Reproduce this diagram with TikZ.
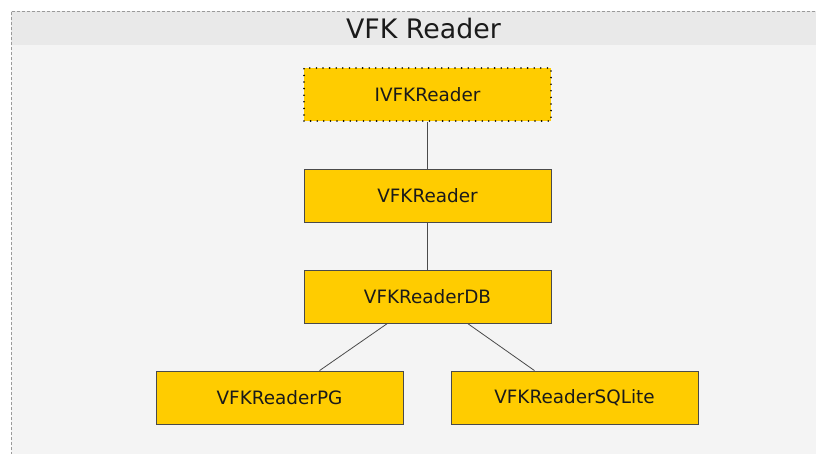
\documentclass[tikz,border=0pt]{standalone}
\usepackage{fontspec}
\setmainfont{DejaVu Sans}
\definecolor{boxfill}{HTML}{FFCC00}
\definecolor{boxline}{HTML}{4A4A4A}
\definecolor{bodybg}{HTML}{F4F4F4}
\definecolor{titlebg}{HTML}{E9E9E9}
\definecolor{framec}{HTML}{9A9A9A}
\definecolor{txt}{HTML}{1A1A1A}
\tikzset{
  cls/.style={draw=boxline, fill=boxfill, line width=0.8pt, minimum width=247pt, minimum height=53pt, inner sep=0pt, text=txt, font=\fontsize{18.4}{20}\selectfont},
  iface/.style={cls, draw=black, line width=1.8pt, dash pattern=on 0pt off 6.6pt, line cap=round},
  conn/.style={draw=boxline, line width=0.8pt}
}
\begin{document}
\begin{tikzpicture}[x=1pt,y=-1pt]
\useasboundingbox (0,0) rectangle (816,453);
\clip (0,0) rectangle (816,453);
\fill[white] (0,0) rectangle (816,453);
\fill[bodybg] (11,11) rectangle (840,480);
\fill[titlebg] (11,11) rectangle (840,45);
\draw[framec, line width=0.8pt, dash pattern=on 3pt off 2pt] (840,11) -- (11,11) -- (11,480);
\node[text=txt, font=\fontsize{26.8}{30}\selectfont] (title) at (423.5,28.5) {VFK Reader};
\node[iface] (ivfk) at (427.5,94.5) {IVFKReader};
\node[cls] (vfk) at (427.5,195.5) {VFKReader};
\node[cls] (db) at (427.5,296.5) {VFKReaderDB};
\node[cls] (pg) at (279.5,397.5) {VFKReaderPG};
\node[cls] (sq) at (574.5,397.5) {VFKReaderSQLite};
\draw[conn] (ivfk.south) -- (vfk.north);
\draw[conn] (vfk.south) -- (db.north);
\draw[conn] ([xshift=-40pt]db.south) -- ([xshift=40pt]pg.north);
\draw[conn] ([xshift=40pt]db.south) -- ([xshift=-40pt]sq.north);
\end{tikzpicture}
\end{document}
